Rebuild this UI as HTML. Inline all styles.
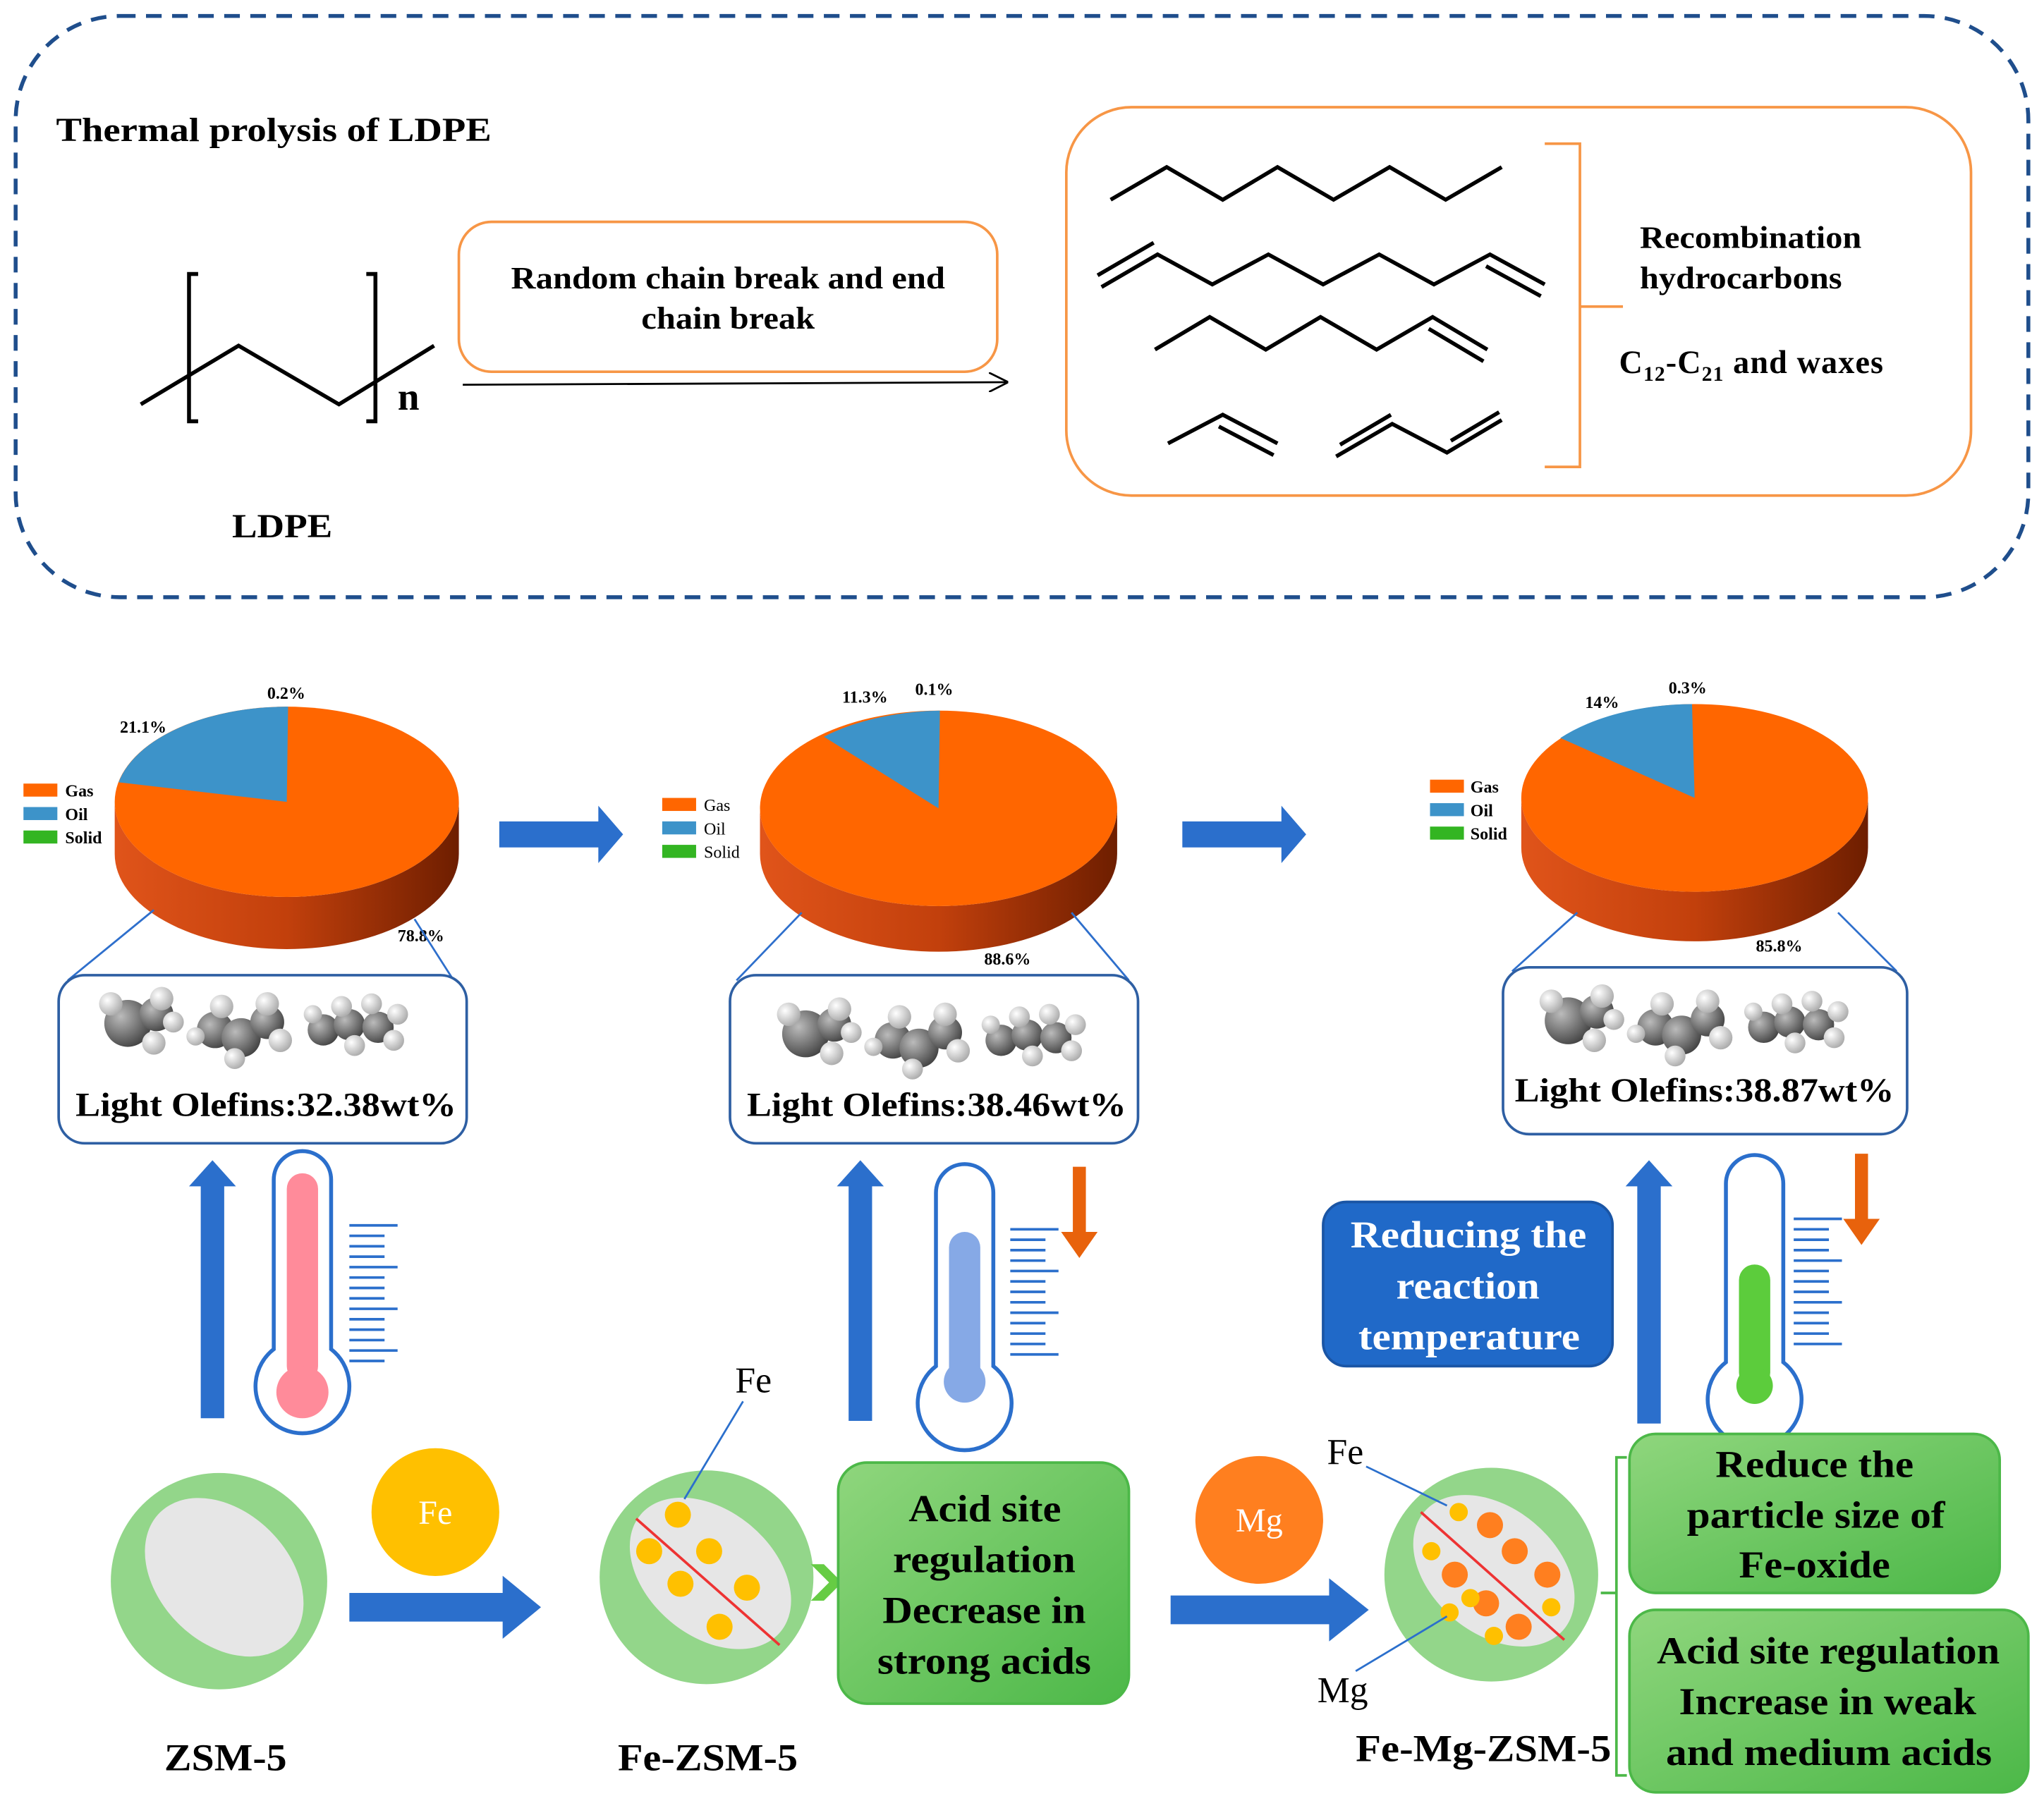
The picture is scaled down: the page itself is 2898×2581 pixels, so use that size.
<!DOCTYPE html>
<html><head><meta charset="utf-8"><style>
html,body{margin:0;padding:0;background:#fff;}
svg{display:block;}
text{font-family:"Liberation Serif",serif;}
</style></head><body>
<svg width="2898" height="2581" viewBox="0 0 1568 1396" xmlns="http://www.w3.org/2000/svg">
<defs>
<linearGradient id="side" x1="0" x2="1" y1="0" y2="0">
<stop offset="0" stop-color="#e0541a"/><stop offset="0.5" stop-color="#c2400c"/><stop offset="1" stop-color="#6e1e00"/></linearGradient>
<radialGradient id="atomC" cx="0.35" cy="0.35" r="0.7"><stop offset="0" stop-color="#bbb"/><stop offset="1" stop-color="#444"/></radialGradient>
<radialGradient id="atomH" cx="0.35" cy="0.35" r="0.7"><stop offset="0" stop-color="#fff"/><stop offset="1" stop-color="#aaa"/></radialGradient>
<linearGradient id="gbox" x1="0" x2="1" y1="0" y2="1"><stop offset="0" stop-color="#8fd67d"/><stop offset="1" stop-color="#4cb848"/></linearGradient>
<marker id="ah" markerWidth="10" markerHeight="10" refX="9" refY="5" orient="auto"><path d="M0,0 L10,5 L0,10" fill="none" stroke="#000" stroke-width="1"/></marker>
<g id="bluearrowR"><path d="M0,-10 H80 V-22 L100,0 L80,22 V10 H0 Z" fill="#2b6fcc"/></g>
</defs>

<rect x="12" y="12" width="1544" height="446" rx="80" fill="none" stroke="#1f4e8c" stroke-width="3" stroke-dasharray="12,8"/>
<text x="43" y="108" font-size="26" font-weight="bold" textLength="334" lengthAdjust="spacingAndGlyphs">Thermal prolysis of LDPE</text>

<g stroke="#000" stroke-width="3" fill="none">
<path d="M152,210 H145 V323 H152"/><path d="M281,210 H288 V323 H281"/>
<path d="M108,310 L183,265 L260,310 L333,265"/>
</g>
<text x="305" y="314" font-size="30" font-weight="bold">n</text>
<text x="178" y="412" font-size="26" font-weight="bold" textLength="77" lengthAdjust="spacingAndGlyphs">LDPE</text>

<rect x="352" y="170" width="413" height="115" rx="25" fill="none" stroke="#f79646" stroke-width="2"/>
<text x="392" y="221" font-size="24" font-weight="bold" textLength="333" lengthAdjust="spacingAndGlyphs">Random chain break and end</text>
<text x="492" y="252" font-size="24" font-weight="bold" textLength="133" lengthAdjust="spacingAndGlyphs">chain break</text>
<line x1="355" y1="295" x2="772" y2="293" stroke="#000" stroke-width="1.5" marker-end="url(#ah)"/>

<rect x="818" y="82" width="694" height="298" rx="50" fill="none" stroke="#f79646" stroke-width="2"/>
<g stroke="#000" stroke-width="3" fill="none">
<path d="M852,153 L895,128 L938,153 L980,128 L1023,153 L1066,128 L1109,153 L1152,128"/>
<path d="M845,220 L888,195 L930,218 L973,195 L1015,218 L1058,195 L1100,218 L1143,195 L1185,218"/>
<path d="M842,211 L885,186"/><path d="M1140,204 L1182,227"/>
<path d="M886,268 L928,243 L971,268 L1013,243 L1056,268 L1099,243 L1141,268"/>
<path d="M1096,252 L1138,277"/>
<path d="M896,340 L938,318 L980,340"/><path d="M935,327 L977,349"/>
<path d="M1025,350 L1068,325 L1110,347 L1152,322"/><path d="M1028,341 L1067,318"/><path d="M1113,338 L1150,316"/>
</g>
<path d="M1185,110 H1212 V358 H1185 M1212,235 H1245" fill="none" stroke="#f79646" stroke-width="2"/>
<text x="1258" y="190" font-size="24" font-weight="bold" textLength="170" lengthAdjust="spacingAndGlyphs">Recombination</text>
<text x="1258" y="221" font-size="24" font-weight="bold" textLength="155" lengthAdjust="spacingAndGlyphs">hydrocarbons</text>
<text x="1242" y="286" font-size="25" font-weight="bold" letter-spacing="0.6">C<tspan font-size="16" dy="6">12</tspan><tspan dy="-6">-C</tspan><tspan font-size="16" dy="6">21</tspan><tspan dy="-6"> and waxes</tspan></text>

<g>
<path d="M88,615 A132,73 0 0 0 352,615 V655 A132,73 0 0 1 88,655 Z" fill="url(#side)"/>
<ellipse cx="220" cy="615" rx="132" ry="73" fill="#ff6600"/>
<path d="M220,615 L221,542 A132,73 0 0 0 91,600 Z" fill="#3d93c9"/>
</g>
<text x="205" y="536" font-size="13" font-weight="bold">0.2%</text>
<text x="92" y="562" font-size="13" font-weight="bold">21.1%</text>
<text x="305" y="722" font-size="13" font-weight="bold">78.8%</text>
<g>
<path d="M583,620 A137,75 0 0 0 857,620 V655 A137,75 0 0 1 583,655 Z" fill="url(#side)"/>
<ellipse cx="720" cy="620" rx="137" ry="75" fill="#ff6600"/>
<path d="M720,620 L721,545 A137,75 0 0 0 632,565 Z" fill="#3d93c9"/>
</g>
<text x="646" y="539" font-size="13" font-weight="bold">11.3%</text>
<text x="702" y="533" font-size="13" font-weight="bold">0.1%</text>
<text x="755" y="740" font-size="13" font-weight="bold">88.6%</text>
<g>
<path d="M1167,612 A133,72 0 0 0 1433,612 V650 A133,72 0 0 1 1167,650 Z" fill="url(#side)"/>
<ellipse cx="1300" cy="612" rx="133" ry="72" fill="#ff6600"/>
<path d="M1300,612 L1298,540 A133,72 0 0 0 1197,566 Z" fill="#3d93c9"/>
</g>
<text x="1216" y="543" font-size="13" font-weight="bold">14%</text>
<text x="1280" y="532" font-size="13" font-weight="bold">0.3%</text>
<text x="1347" y="730" font-size="13" font-weight="bold">85.8%</text>

<g font-size="13" font-weight="bold">
<rect x="18" y="601" width="26" height="10" fill="#ff6600"/><text x="50" y="611">Gas</text>
<rect x="18" y="619" width="26" height="10" fill="#3d93c9"/><text x="50" y="629">Oil</text>
<rect x="18" y="637" width="26" height="10" fill="#33b522"/><text x="50" y="647">Solid</text>
<rect x="508" y="612" width="26" height="10" fill="#ff6600"/><text x="540" y="622" font-weight="normal">Gas</text>
<rect x="508" y="630" width="26" height="10" fill="#3d93c9"/><text x="540" y="640" font-weight="normal">Oil</text>
<rect x="508" y="648" width="26" height="10" fill="#33b522"/><text x="540" y="658" font-weight="normal">Solid</text>
<rect x="1097" y="598" width="26" height="10" fill="#ff6600"/><text x="1128" y="608">Gas</text>
<rect x="1097" y="616" width="26" height="10" fill="#3d93c9"/><text x="1128" y="626">Oil</text>
<rect x="1097" y="634" width="26" height="10" fill="#33b522"/><text x="1128" y="644">Solid</text>
</g>

<use href="#bluearrowR" transform="translate(383,640) scale(0.95,1)"/>
<use href="#bluearrowR" transform="translate(907,640) scale(0.95,1)"/>

<g stroke="#2e6fcc" stroke-width="1.5">
<line x1="118" y1="698" x2="52" y2="752"/><line x1="318" y1="705" x2="348" y2="752"/>
<line x1="615" y1="700" x2="565" y2="752"/><line x1="822" y1="700" x2="866" y2="752"/>
<line x1="1210" y1="700" x2="1160" y2="745"/><line x1="1410" y1="700" x2="1455" y2="745"/>
</g>

<g fill="#fff" stroke="#2e5fa3" stroke-width="2">
<rect x="45" y="748" width="313" height="129" rx="20"/>
<rect x="560" y="748" width="313" height="129" rx="20"/>
<rect x="1153" y="742" width="310" height="128" rx="20"/>
</g>
<g id="mols">
<circle cx="98" cy="785" r="18" fill="url(#atomC)"/><circle cx="120" cy="778" r="13" fill="url(#atomC)"/>
<circle cx="85" cy="770" r="9" fill="url(#atomH)"/><circle cx="124" cy="766" r="9" fill="url(#atomH)"/><circle cx="118" cy="800" r="9" fill="url(#atomH)"/><circle cx="133" cy="784" r="8" fill="url(#atomH)"/>
<circle cx="165" cy="790" r="14" fill="url(#atomC)"/><circle cx="185" cy="796" r="15" fill="url(#atomC)"/><circle cx="205" cy="784" r="13" fill="url(#atomC)"/>
<circle cx="170" cy="772" r="9" fill="url(#atomH)"/><circle cx="205" cy="770" r="9" fill="url(#atomH)"/><circle cx="215" cy="798" r="9" fill="url(#atomH)"/><circle cx="180" cy="812" r="8" fill="url(#atomH)"/><circle cx="150" cy="795" r="7" fill="url(#atomH)"/>
<circle cx="248" cy="790" r="12" fill="url(#atomC)"/><circle cx="268" cy="786" r="12" fill="url(#atomC)"/><circle cx="290" cy="788" r="12" fill="url(#atomC)"/>
<circle cx="262" cy="772" r="8" fill="url(#atomH)"/><circle cx="285" cy="770" r="8" fill="url(#atomH)"/><circle cx="305" cy="778" r="8" fill="url(#atomH)"/><circle cx="302" cy="798" r="8" fill="url(#atomH)"/><circle cx="272" cy="802" r="8" fill="url(#atomH)"/><circle cx="240" cy="778" r="7" fill="url(#atomH)"/>
</g>
<use href="#mols" transform="translate(520,8)"/>
<use href="#mols" transform="translate(1105,-2)"/>
<g font-size="26" font-weight="bold">
<text x="58" y="856" textLength="292" lengthAdjust="spacingAndGlyphs">Light Olefins:32.38wt%</text>
<text x="573" y="856" textLength="291" lengthAdjust="spacingAndGlyphs">Light Olefins:38.46wt%</text>
<text x="1162" y="845" textLength="291" lengthAdjust="spacingAndGlyphs">Light Olefins:38.87wt%</text>
</g>

<g fill="#2b6fcc">
<path d="M154,1088 V910 H145 L163,890 L181,910 H172 V1088 Z"/>
<path d="M651,1090 V910 H642 L660,890 L678,910 H669 V1090 Z"/>
<path d="M1256,1092 V910 H1247 L1265,890 L1283,910 H1274 V1092 Z"/>
</g>

<g fill="#fff" stroke="#2b6fcc" stroke-width="3">
<path d="M210,905 A22,22 0 0 1 254,905 V1035 A36,36 0 1 1 210,1035 Z"/>
<path d="M718,915 A22,22 0 0 1 762,915 V1048 A36,36 0 1 1 718,1048 Z"/>
<path d="M1324,908 A22,22 0 0 1 1368,908 V1045 A36,36 0 1 1 1324,1045 Z"/>
</g>
<rect x="220" y="900" width="24" height="160" rx="12" fill="#ff8b9a"/><circle cx="232" cy="1068" r="20" fill="#ff8b9a"/>
<rect x="728" y="945" width="24" height="120" rx="12" fill="#86a9e6"/><circle cx="740" cy="1060" r="16" fill="#86a9e6"/>
<rect x="1334" y="970" width="24" height="95" rx="12" fill="#5ccc3c"/><circle cx="1346" cy="1063" r="14" fill="#5ccc3c"/>
<g stroke="#2b6fcc" stroke-width="2">
<path d="M268,940 H305 M268,948 H295 M268,956 H295 M268,964 H295 M268,972 H305 M268,980 H295 M268,988 H295 M268,996 H295 M268,1004 H305 M268,1012 H295 M268,1020 H295 M268,1028 H295 M268,1036 H305 M268,1044 H295"/>
<path transform="translate(507,3)" d="M268,940 H305 M268,948 H295 M268,956 H295 M268,964 H295 M268,972 H305 M268,980 H295 M268,988 H295 M268,996 H295 M268,1004 H305 M268,1012 H295 M268,1020 H295 M268,1028 H295 M268,1036 H305"/>
<path transform="translate(1108,-5)" d="M268,940 H305 M268,948 H295 M268,956 H295 M268,964 H295 M268,972 H305 M268,980 H295 M268,988 H295 M268,996 H295 M268,1004 H305 M268,1012 H295 M268,1020 H295 M268,1028 H295 M268,1036 H305"/>
</g>
<g fill="#e8620c">
<path d="M823,895 H833 V945 H842 L828,965 L814,945 H823 Z"/>
<path d="M1423,885 H1433 V935 H1442 L1428,955 L1414,935 H1423 Z"/>
</g>

<rect x="1015" y="922" width="222" height="126" rx="18" fill="#2069c8" stroke="#1a55a5" stroke-width="2"/>
<g font-size="29" font-weight="bold" fill="#fff">
<text x="1036" y="957" textLength="181" lengthAdjust="spacingAndGlyphs">Reducing the</text>
<text x="1071" y="996" textLength="110" lengthAdjust="spacingAndGlyphs">reaction</text>
<text x="1042" y="1035" textLength="170" lengthAdjust="spacingAndGlyphs">temperature</text>
</g>

<circle cx="168" cy="1213" r="83" fill="#93d68a"/>
<ellipse cx="172" cy="1210" rx="70" ry="50" transform="rotate(45 172 1210)" fill="#e6e6e6"/>
<circle cx="334" cy="1160" r="49" fill="#ffc000"/>
<text x="334" y="1169" font-size="26" fill="#fff" text-anchor="middle">Fe</text>
<use href="#bluearrowR" transform="translate(268,1233) scale(1.47,1.1)"/>

<circle cx="542" cy="1210" r="82" fill="#93d68a"/>
<ellipse cx="545" cy="1207" rx="70" ry="48" transform="rotate(40 545 1207)" fill="#e6e6e6"/>
<line x1="488" y1="1165" x2="598" y2="1262" stroke="#ee3333" stroke-width="2"/>
<g fill="#ffc000"><circle cx="520" cy="1162" r="10"/><circle cx="498" cy="1190" r="10"/><circle cx="544" cy="1190" r="10"/><circle cx="522" cy="1215" r="10"/><circle cx="573" cy="1218" r="10"/><circle cx="552" cy="1248" r="10"/></g>
<line x1="525" y1="1150" x2="570" y2="1075" stroke="#2b6fcc" stroke-width="1.5"/>
<text x="578" y="1068" font-size="28" text-anchor="middle">Fe</text>
<path d="M622,1200 L636,1214 L622,1228 H632 L646,1214 L632,1200 Z" fill="#66cc44"/>

<rect x="643" y="1122" width="223" height="185" rx="22" fill="url(#gbox)" stroke="#4cb848" stroke-width="2"/>
<g font-size="29" font-weight="bold">
<text x="697" y="1167" textLength="117" lengthAdjust="spacingAndGlyphs">Acid site</text>
<text x="685" y="1206" textLength="140" lengthAdjust="spacingAndGlyphs">regulation</text>
<text x="677" y="1245" textLength="156" lengthAdjust="spacingAndGlyphs">Decrease in</text>
<text x="673" y="1284" textLength="164" lengthAdjust="spacingAndGlyphs">strong acids</text>
</g>

<circle cx="966" cy="1166" r="49" fill="#ff7f1f"/>
<text x="966" y="1175" font-size="26" fill="#fff" text-anchor="middle">Mg</text>
<use href="#bluearrowR" transform="translate(898,1235) scale(1.52,1.1)"/>

<circle cx="1144" cy="1208" r="82" fill="#93d68a"/>
<ellipse cx="1146" cy="1205" rx="70" ry="48" transform="rotate(40 1146 1205)" fill="#e6e6e6"/>
<line x1="1090" y1="1160" x2="1200" y2="1258" stroke="#ee3333" stroke-width="2"/>
<g fill="#ff7f1f"><circle cx="1143" cy="1170" r="10"/><circle cx="1162" cy="1190" r="10"/><circle cx="1187" cy="1208" r="10"/><circle cx="1116" cy="1208" r="10"/><circle cx="1140" cy="1230" r="10"/><circle cx="1165" cy="1248" r="10"/></g>
<g fill="#ffc000"><circle cx="1119" cy="1160" r="7"/><circle cx="1098" cy="1190" r="7"/><circle cx="1112" cy="1237" r="7"/><circle cx="1128" cy="1226" r="7"/><circle cx="1190" cy="1233" r="7"/><circle cx="1146" cy="1255" r="7"/></g>
<line x1="1048" y1="1125" x2="1110" y2="1155" stroke="#2b6fcc" stroke-width="1.5"/>
<line x1="1040" y1="1282" x2="1110" y2="1240" stroke="#2b6fcc" stroke-width="1.5"/>
<text x="1032" y="1123" font-size="28" text-anchor="middle">Fe</text>
<text x="1030" y="1306" font-size="28" text-anchor="middle">Mg</text>

<path d="M1248,1118 H1240 V1362 H1248 M1240,1222 H1228" fill="none" stroke="#4cb848" stroke-width="2"/>
<rect x="1250" y="1100" width="284" height="122" rx="20" fill="url(#gbox)" stroke="#4cb848" stroke-width="2"/>
<g font-size="29" font-weight="bold">
<text x="1316" y="1133" textLength="152" lengthAdjust="spacingAndGlyphs">Reduce the</text>
<text x="1294" y="1172" textLength="198" lengthAdjust="spacingAndGlyphs">particle size of</text>
<text x="1334" y="1210" textLength="116" lengthAdjust="spacingAndGlyphs">Fe-oxide</text>
</g>
<rect x="1250" y="1235" width="306" height="140" rx="20" fill="url(#gbox)" stroke="#4cb848" stroke-width="2"/>
<g font-size="29" font-weight="bold">
<text x="1271" y="1276" textLength="263" lengthAdjust="spacingAndGlyphs">Acid site regulation</text>
<text x="1288" y="1315" textLength="228" lengthAdjust="spacingAndGlyphs">Increase in weak</text>
<text x="1278" y="1354" textLength="250" lengthAdjust="spacingAndGlyphs">and medium acids</text>
</g>

<g font-size="29" font-weight="bold">
<text x="126" y="1358" textLength="94" lengthAdjust="spacingAndGlyphs">ZSM-5</text>
<text x="474" y="1358" textLength="138" lengthAdjust="spacingAndGlyphs">Fe-ZSM-5</text>
<text x="1040" y="1351" textLength="196" lengthAdjust="spacingAndGlyphs">Fe-Mg-ZSM-5</text>
</g>
</svg>
</body></html>
